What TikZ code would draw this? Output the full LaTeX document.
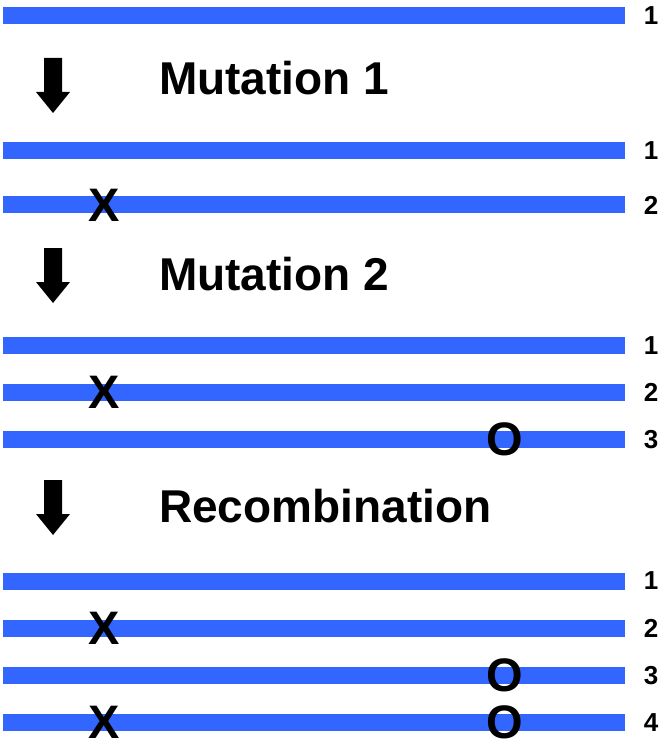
\documentclass[tikz,border=0pt]{standalone}
\usepackage{fontspec}
\setmainfont{Liberation Sans}

\definecolor{barblue}{RGB}{51,102,255}

\tikzset{
  strand/.style={fill=barblue},
  stagetitle/.style={font=\bfseries\fontsize{46}{50}\selectfont, anchor=base west, inner sep=0pt},
  mutmark/.style={font=\bfseries\fontsize{47}{51}\selectfont, inner sep=0pt},
  strandno/.style={font=\bfseries\fontsize{26}{29}\selectfont, inner sep=0pt},
}

\begin{document}
\begin{tikzpicture}[x=1pt,y=-1pt]
      \useasboundingbox (0,0) rectangle (664,743);

      % the strands, each with its number on the right
      \def\barL{3}
      \def\barR{625}
      \def\hw{8.5}
      \foreach \y/\n [count=\i] in {15.5/1, 151/1, 205/2, 345.5/1, 392/2, 439.5/3,
          581/1, 628.5/2, 675.5/3, 722.5/4} {
          \fill[strand] (\barL,\y-\hw) rectangle (\barR,\y+\hw);
          \node[strandno] (no\i) at (651,\y) {\n};
        }

      % the steps
      \foreach \t [count=\i] in {58,248,480} {
          \fill (44,\t) -- (62,\t) -- (62,\t+34) -- (70,\t+34)
            -- (53,\t+55) -- (36,\t+34) -- (44,\t+34) -- cycle;
        }
      \node[stagetitle] (mut1) at (159,95) {Mutation 1};
      \node[stagetitle] (mut2) at (159,290) {Mutation 2};
      \node[stagetitle] (recomb) at (159,522) {Recombination};

      % the mutations
      \foreach \y [count=\i] in {205,392,628.5,722} {
          \node[mutmark] (x\i) at (104,\y) {X};
        }
      \foreach \y [count=\i] in {439.5,675.5,722} {
          \node[mutmark] (o\i) at (505,\y) {O};
        }
    \end{tikzpicture}
\end{document}
